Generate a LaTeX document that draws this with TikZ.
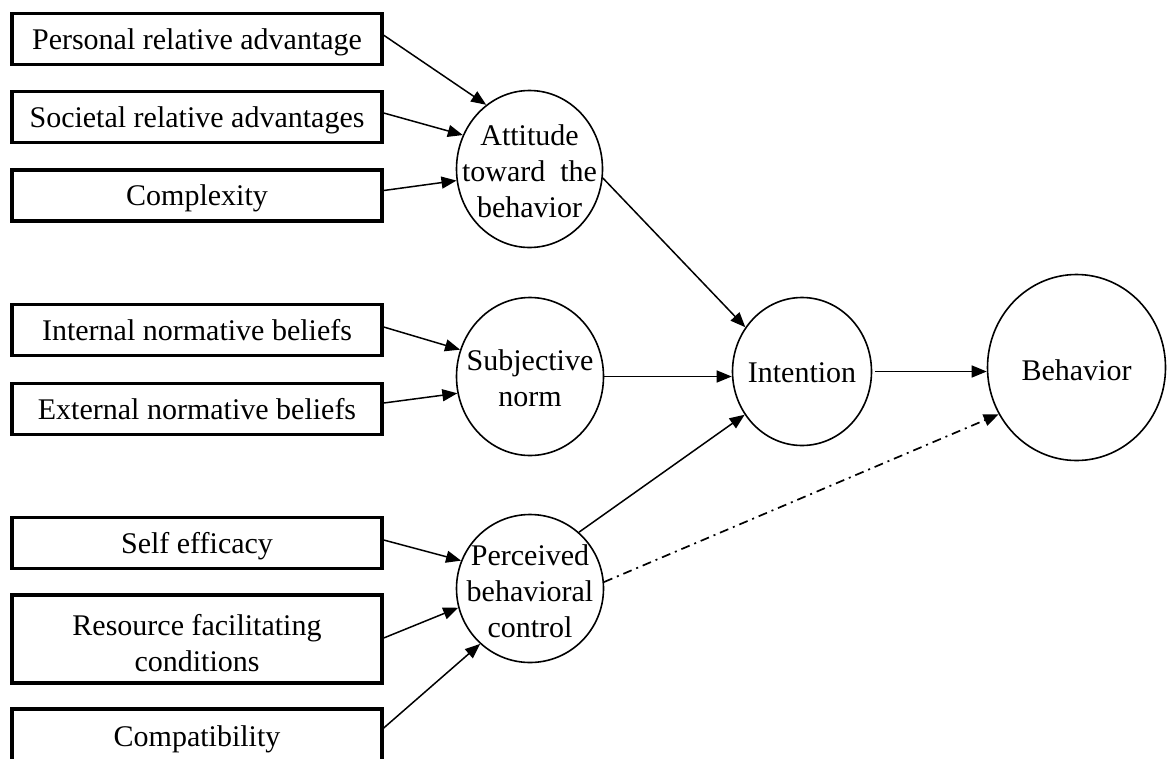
\documentclass[tikz,border=0pt]{standalone}
\usepackage{fontspec}
\setmainfont{Liberation Serif}
\usetikzlibrary{shapes.geometric,arrows.meta}
\begin{document}
\begin{tikzpicture}[x=1pt,y=-1pt,
  box/.style={draw,line width=3.4pt,minimum width=370pt,minimum height=51pt,inner sep=0pt,align=center,text depth=0pt,font=\fontsize{30}{36}\selectfont},
  ell/.style={draw,ellipse,line width=1.6pt,inner sep=0pt},
  lbl/.style={align=center,font=\fontsize{30}{36}\selectfont,inner sep=0pt},
  arr/.style={line width=1.5pt,-{Triangle[length=15pt,width=12pt]}},
  dd/.style={arr,line width=1.7pt,dash pattern=on 9pt off 5pt on 2pt off 5pt}]
\useasboundingbox (0,0) rectangle (1169,758);
\fill[white] (0,0) rectangle (1169,758);
\clip (0,0) rectangle (1169,758);
% boxes
\node[box] (b1) at (197,38.7) {Personal relative advantage};
\node[box] (b2) at (197,117) {Societal relative advantages};
\node[box] (b3) at (197,195.5) {Complexity};
\node[box] (b4) at (197,330) {Internal normative beliefs};
\node[box] (b5) at (197,409) {External normative beliefs};
\node[box] (b6) at (197,543) {Self efficacy};
\node[box,minimum height=88pt] (b7) at (197,639) {};
\node[lbl] (b7t) at ([yshift=-4.5pt]b7.center) {Resource facilitating\\conditions};
\node[box,minimum height=56pt] (b8) at (197,737) {\raisebox{2pt}{Compatibility}};
% ellipses
\node[ell,minimum width=146pt,minimum height=157pt] (att) at (529.5,169) {};
\node[lbl] (attt) at ([yshift=-2pt]att.center) {Attitude\\toward\hspace{15pt}the\\behavior};
\node[ell,minimum width=147pt,minimum height=158pt] (sn) at (530,376.5) {};
\node[lbl] (snt) at ([yshift=-2pt]sn.center) {Subjective\\norm};
\node[ell,minimum width=147pt,minimum height=148pt] (pbc) at (530,588.5) {};
\node[lbl] (pbct) at ([yshift=-3pt]pbc.center) {Perceived\\behavioral\\control};
\node[ell,minimum width=139pt,minimum height=148pt] (int) at (802,371.5) {};
\node[lbl] (intt) at ([yshift=-1pt]int.center) {Intention};
\node[ell,minimum width=178pt,minimum height=186pt] (beh) at (1076.5,367.5) {};
\node[lbl] (beht) at ([yshift=-3pt]beh.center) {Behavior};
% arrows into attitude
\draw[arr] ([yshift=3.5pt]b1.east) -- (att.124.5);
\draw[arr] ([yshift=4pt]b2.east) -- (att.153.9);
\draw[arr] ([yshift=5pt]b3.east) -- (att.189);
% arrows into subjective norm
\draw[arr] ([yshift=3pt]b4.east) -- (sn.159.1);
\draw[arr] ([yshift=6pt]b5.east) -- (sn.193.7);
% arrows into pbc
\draw[arr] ([yshift=3pt]b6.east) -- (pbc.158.4);
\draw[arr] ([yshift=1pt]b7.east) -- (pbc.195.6);
\draw[arr] ([yshift=9pt]b8.east) -- (pbc.228.7);
% into intention
\draw[arr] (att.-7) -- (int.142.8);
\draw[arr] (sn.east) -- (sn.east -| int.west);
\draw[arr] (pbc.49.7) -- (int.217.2);
% into behavior
\draw[arr,shorten <=3pt] (int.east) -- (int.east -| beh.west);
\draw[dd] (pbc.5) -- (beh.211.9);
\end{tikzpicture}
\end{document}
